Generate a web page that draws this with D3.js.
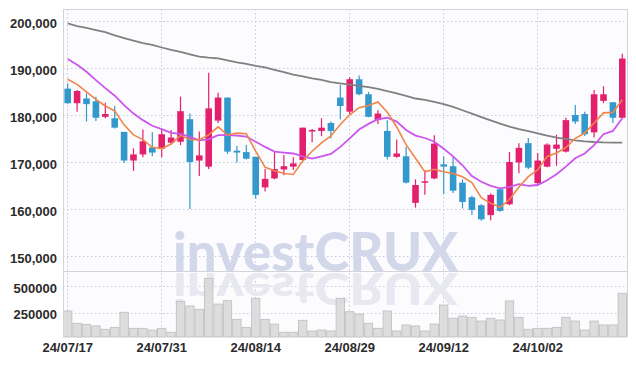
<!DOCTYPE html>
<html>
<head>
<meta charset="utf-8">
<script src="https://cdn.jsdelivr.net/npm/d3@7"></script>
<style>
  body { margin: 0; background: #fff; }
  svg { display: block; }
  .lbl text { font-family: "Liberation Sans", Arial, sans-serif; font-weight: bold; font-size: 13px; fill: #2b2b2b; }
  .wm { font-family: Lato, "Liberation Sans", Arial, sans-serif; font-weight: 900; font-size: 54px; }
</style>
</head>
<body>
<script>
// trading days shown on the chart
const dates = [
  '24/07/17','24/07/18','24/07/19','24/07/22','24/07/23','24/07/24','24/07/25','24/07/26','24/07/29','24/07/30',
  '24/07/31','24/08/01','24/08/02','24/08/05','24/08/06','24/08/07','24/08/08','24/08/09','24/08/12','24/08/13',
  '24/08/14','24/08/16','24/08/19','24/08/20','24/08/21','24/08/22','24/08/23','24/08/26','24/08/27','24/08/28',
  '24/08/29','24/08/30','24/09/02','24/09/03','24/09/04','24/09/05','24/09/06','24/09/09','24/09/10','24/09/11',
  '24/09/12','24/09/13','24/09/19','24/09/20','24/09/23','24/09/24','24/09/25','24/09/26','24/09/27','24/09/30',
  '24/10/02','24/10/04','24/10/07','24/10/08','24/10/10','24/10/11','24/10/14','24/10/15','24/10/16','24/10/17'
]
const tickDates = ['24/07/17','24/07/31','24/08/14','24/08/29','24/09/12','24/10/02']

const openPrices = [
  185700,182600,183600,183000,179700,179400,176500,170400,171700,173200,
  172900,174200,174400,179200,170400,169100,178900,183800,172500,172200,
  171200,164700,166600,168500,169100,170500,176600,176700,178400,183800,
  180800,187700,184500,179000,176700,171200,171300,161400,165700,166600,
  169600,169200,165700,162600,160900,158800,164300,161100,170000,174100,
  165600,169100,172900,172300,180100,180300,176400,183100,182800,179500
]
const highPrices = [
  186800,185400,184700,184000,182700,182000,176500,173000,177000,176400,
  176900,176900,184000,180400,176600,189100,184800,183800,173500,173700,
  171200,168600,172300,171600,171100,177400,177100,179400,178700,186500,
  188100,188500,185000,181100,179000,174900,173300,166400,168400,175800,
  171300,171200,166400,162900,161100,163400,164500,172200,174100,175200,
  172000,174100,175900,179500,182200,180800,185400,186200,182800,193100
]
const lowPrices = [
  182500,180800,178700,178800,179400,177200,169900,168200,171100,171300,
  171100,173900,173700,160100,167100,168600,178400,171800,170000,170600,
  162300,163800,166400,167300,168400,170400,174300,175600,175100,179200,
  180300,184300,179600,178200,170600,171000,165500,160400,163100,166400,
  163300,163500,160200,158800,157600,157700,159500,160900,167700,168600,
  165400,169000,169300,172100,178200,175600,175300,182600,178400,179400
]
const closePrices = [
  182600,185200,182400,179500,180300,177400,170400,171700,174500,172100,
  176000,175300,180900,170100,171500,181500,183800,172300,172100,170800,
  163100,166500,168600,169200,169800,177400,176900,177400,176700,182000,
  187700,184500,179700,180400,171200,171900,165700,165200,166000,174000,
  169100,164000,161600,159900,157900,163100,159700,170100,173100,168900,
  170400,173800,173800,179000,178700,176000,184500,184500,179500,192100
]
const volume = [
  266000,151000,141000,126000,95000,113000,254000,104000,104000,88000,
  104000,67000,357000,313000,282000,572000,331000,362000,188000,113000,
  385000,188000,143000,67000,67000,179000,79000,88000,79000,385000,
  259000,238000,151000,104000,266000,79000,135000,126000,79000,144000,
  322000,198000,219000,207000,172000,198000,182000,360000,207000,95000,
  104000,104000,113000,207000,172000,88000,172000,135000,135000,432000
]
// moving averages as drawn (orange short, purple mid, gray long)
const maShort = [
  187700,186600,185000,183400,182000,180960,178000,175860,174860,173220,
  172940,173920,175760,174880,174760,175860,177560,175840,176240,176100,
  172420,168960,168220,167640,167440,170300,172380,174140,175640,178080,
  180140,181660,182120,182860,180700,177540,173780,170880,168000,168560,
  168000,167660,166940,165720,162500,161300,160440,162140,164780,166980,
  168440,171260,172000,173180,175140,176260,178400,180540,180640,183320
]
const maMid = [
  192000,190800,189300,187500,185800,184200,182200,180400,179000,177800,
  177100,176300,176100,175450,174700,174900,175800,175800,175700,175500,
  174400,173300,172300,172100,171900,171300,170800,171300,171800,173300,
  175100,177000,178200,179200,179500,178700,176900,175700,175200,174400,
  172900,171300,169400,167100,165900,165000,164500,164800,165400,165000,
  165200,166200,167500,169100,170900,171900,173700,176000,176700,179400
]
const maLong = [
  199600,199000,198600,198150,197700,197050,196450,195900,195400,195000,
  194450,193950,193500,193000,192500,192300,192150,191700,191300,190950,
  190550,190200,189700,189200,188700,188300,187900,187550,187100,186800,
  186550,186300,186000,185650,185150,184700,184150,183600,183300,182900,
  182400,181800,181100,180400,179650,178950,178250,177600,177100,176650,
  176200,175700,175300,175000,174700,174500,174350,174250,174200,174200
]
const priceTicks = [150000, 160000, 170000, 180000, 190000, 200000]
const volumeTicks = [250000, 500000]

const svgW = 636, svgH = 366
const pl = 63, pr = 627, pt = 9, split = 271.5, pb = 337

const svg = d3.select('body').append('svg')
  .attr('width', svgW)
  .attr('height', svgH)

svg.append('rect')
  .attr('x', pl).attr('y', pt)
  .attr('width', pr - pl).attr('height', pb - pt)
  .attr('fill', '#fcfcfe')

// scales
let x = d3.scaleBand()
  .domain(dates)
  .range([pl, pr])
  .paddingInner(0.3)
  .paddingOuter(0.15)

let xv = d3.scaleBand()
  .domain(dates)
  .range([pl, pr])

let y = d3.scaleLinear()
  .domain([146800, 202640])
  .range([split, pt])

let yv = d3.scaleLinear()
  .domain([22500, 631000])
  .range([pb, split + 0.5])

const cx = d => x(d) + x.bandwidth() / 2

// grid lines
let grid = svg.append('g')
  .attr('stroke', '#c5c9dd')
  .attr('stroke-width', 1)
  .attr('stroke-dasharray', '1.5,2.5')

grid.selectAll('.h').data(priceTicks).enter().append('line')
  .attr('x1', pl).attr('x2', pr)
  .attr('y1', d => Math.round(y(d)) + 0.5).attr('y2', d => Math.round(y(d)) + 0.5)

grid.selectAll('.hv').data(volumeTicks).enter().append('line')
  .attr('x1', pl).attr('x2', pr)
  .attr('y1', d => Math.round(yv(d)) + 0.5).attr('y2', d => Math.round(yv(d)) + 0.5)

grid.selectAll('.v').data(tickDates).enter().append('line')
  .attr('x1', d => Math.round(cx(d)) - 0.5).attr('x2', d => Math.round(cx(d)) - 0.5)
  .attr('y1', pt).attr('y2', pb)

// watermark and its reflection
svg.append('text')
  .attr('class', 'wm')
  .attr('x', 173).attr('y', 271)
  .attr('textLength', 285).attr('lengthAdjust', 'spacingAndGlyphs')
  .attr('fill', '#d2d7ea')
  .text('investCRUX')

svg.append('clipPath').attr('id', 'volclip')
  .append('rect').attr('x', pl).attr('y', split + 0.5).attr('width', pr - pl).attr('height', pb - split)

svg.append('g').attr('clip-path', 'url(#volclip)')
  .append('text')
  .attr('class', 'wm')
  .attr('transform', `translate(0, ${split + 1}) scale(1, -0.8)`)
  .attr('x', 173).attr('y', 0)
  .attr('textLength', 285).attr('lengthAdjust', 'spacingAndGlyphs')
  .attr('fill', '#e8e8f0')
  .text('investCRUX')

// volume bars
svg.append('g').selectAll('rect')
  .data(dates)
  .enter()
  .append('rect')
  .attr('x', d => xv(d) + 0.5)
  .attr('y', (d, i) => yv(volume[i]))
  .attr('width', xv.bandwidth() - 1)
  .attr('height', (d, i) => pb - yv(volume[i]))
  .attr('fill', '#d9d9d9')
  .attr('fill-opacity', 0.9)
  .attr('stroke', '#bdbdbd')
  .attr('stroke-width', 0.8)

// candles
const up = '#e2206d', down = '#3399cc'
const isUp = i => closePrices[i] >= openPrices[i]
let cg = svg.append('g')

cg.selectAll('line')
  .data(dates)
  .enter()
  .append('line')
  .attr('x1', cx).attr('x2', cx)
  .attr('y1', (d, i) => y(highPrices[i]))
  .attr('y2', (d, i) => y(lowPrices[i]))
  .attr('stroke', (d, i) => isUp(i) ? up : down)
  .attr('stroke-width', 1.2)

cg.selectAll('rect')
  .data(dates)
  .enter()
  .append('rect')
  .attr('x', d => x(d))
  .attr('y', (d, i) => y(Math.max(openPrices[i], closePrices[i])))
  .attr('width', x.bandwidth())
  .attr('height', (d, i) => Math.max(1.5, Math.abs(y(openPrices[i]) - y(closePrices[i]))))
  .attr('fill', (d, i) => isUp(i) ? up : down)

// moving average lines
const maLine = vals => d3.line()
  .x((d, i) => cx(dates[i]))
  .y(d => y(d))(vals)

svg.append('path').attr('d', maLine(maLong))
  .attr('fill', 'none').attr('stroke', '#808080').attr('stroke-width', 1.8)
svg.append('path').attr('d', maLine(maMid))
  .attr('fill', 'none').attr('stroke', '#cc55ee').attr('stroke-width', 1.8)
svg.append('path').attr('d', maLine(maShort))
  .attr('fill', 'none').attr('stroke', '#f0844a').attr('stroke-width', 1.6)

// frame
let frame = svg.append('g').attr('stroke', '#d4d4d8').attr('stroke-width', 1).attr('fill', 'none')
frame.append('line').attr('x1', pl + 0.5).attr('x2', pl + 0.5).attr('y1', pt).attr('y2', pb)
frame.append('line').attr('x1', pr + 0.5).attr('x2', pr + 0.5).attr('y1', pt).attr('y2', pb)
frame.append('line').attr('x1', pl).attr('x2', pr).attr('y1', pt + 0.5).attr('y2', pt + 0.5)
frame.append('line').attr('x1', pl).attr('x2', pr).attr('y1', split).attr('y2', split)

// axes labels
svg.append('g')
  .attr('class', 'lbl')
  .attr('transform', `translate(${pl}, 2)`)
  .call(d3.axisLeft(y).tickValues(priceTicks).tickFormat(d3.format(',')).tickSize(0).tickPadding(6))
  .call(g => g.select('.domain').remove())

svg.append('g')
  .attr('class', 'lbl')
  .attr('transform', `translate(${pl}, 2)`)
  .call(d3.axisLeft(yv).tickValues(volumeTicks).tickFormat(d3.format('d')).tickSize(0).tickPadding(6))
  .call(g => g.select('.domain').remove())

svg.append('g')
  .attr('class', 'lbl')
  .attr('transform', `translate(0, ${pb})`)
  .call(d3.axisBottom(x).tickValues(tickDates).tickSize(0).tickPadding(6))
  .call(g => g.select('.domain').remove())
</script>
</body>
</html>
